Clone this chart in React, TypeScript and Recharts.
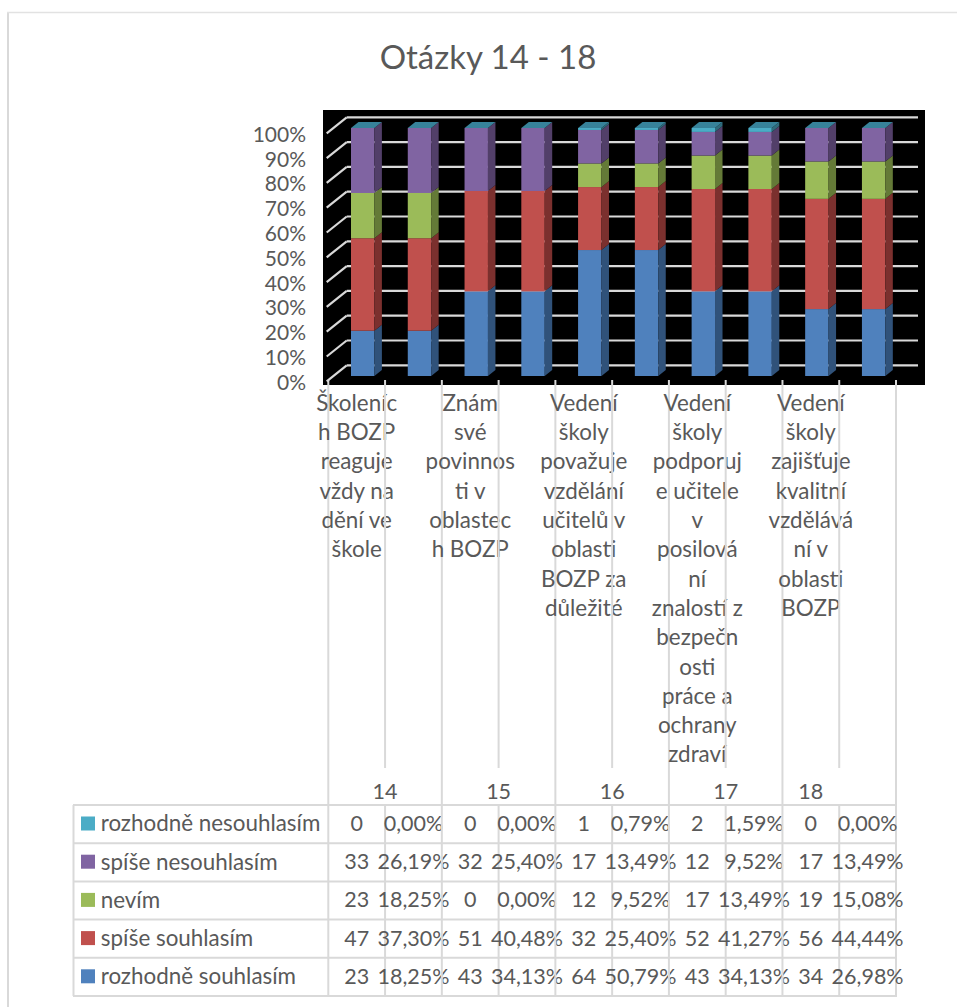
import React from "react";
import { BarChart, Bar, XAxis, YAxis, CartesianGrid } from "recharts";

const TEXT = "#595959";
const LINE = "#d9d9d9";
const FONT = "Lato, Carlito, sans-serif";

// question numbers, one column of counts and one of percents each
const questions = [14, 15, 16, 17, 18];
const categoryLabels = [
  ["Školeníc", "h BOZP", "reaguje", "vždy na", "dění ve", "škole"],
  ["Znám", "své", "povinnos", "ti v", "oblastec", "h BOZP"],
  ["Vedení", "školy", "považuje", "vzdělání", "učitelů v", "oblasti", "BOZP za", "důležité"],
  ["Vedení", "školy", "podporuj", "e učitele", "v", "posilová", "ní", "znalostí z", "bezpečn", "osti", "práce a", "ochrany", "zdraví"],
  ["Vedení", "školy", "zajišťuje", "kvalitní", "vzdělává", "ní v", "oblasti", "BOZP"],
];

const yTicks = [0, 0.1, 0.2, 0.3, 0.4, 0.5, 0.6, 0.7, 0.8, 0.9, 1];

const rozhodneSouhlasimCount = [23, 43, 64, 43, 34];
const rozhodneSouhlasimPct = [18.25, 34.13, 50.79, 34.13, 26.98];
const spiseSouhlasimCount = [47, 51, 32, 52, 56];
const spiseSouhlasimPct = [37.3, 40.48, 25.4, 41.27, 44.44];
const nevimCount = [23, 0, 12, 17, 19];
const nevimPct = [18.25, 0, 9.52, 13.49, 15.08];
const spiseNesouhlasimCount = [33, 32, 17, 12, 17];
const spiseNesouhlasimPct = [26.19, 25.4, 13.49, 9.52, 13.49];
const rozhodneNesouhlasimCount = [0, 0, 1, 2, 0];
const rozhodneNesouhlasimPct = [0, 0, 0.79, 1.59, 0];

// bottom to top, as stacked
const series = [
  { key: "s1", name: "rozhodně souhlasím", counts: rozhodneSouhlasimCount, pcts: rozhodneSouhlasimPct, fill: "#4f81bd", side: "#30527a", top: "#4f81bd" },
  { key: "s2", name: "spíše souhlasím", counts: spiseSouhlasimCount, pcts: spiseSouhlasimPct, fill: "#c0504d", side: "#7b302e", top: "#c0504d" },
  { key: "s3", name: "nevím", counts: nevimCount, pcts: nevimPct, fill: "#9bbb59", side: "#647a37", top: "#9bbb59" },
  { key: "s4", name: "spíše nesouhlasím", counts: spiseNesouhlasimCount, pcts: spiseNesouhlasimPct, fill: "#8064a2", side: "#523f69", top: "#8064a2" },
  { key: "s5", name: "rozhodně nesouhlasím", counts: rozhodneNesouhlasimCount, pcts: rozhodneNesouhlasimPct, fill: "#4bacc6", side: "#2f6a7c", top: "#37829a" },
];

const fmtPct = (v: number) => v.toFixed(2).replace(".", ",") + "%";

// two columns per question: raw counts and percents
const columns: any[] = [];
questions.forEach((q, i) => {
  const counts: any = { col: `${q}-n`, question: i, isPct: false };
  const pcts: any = { col: `${q}-p`, question: i, isPct: true };
  series.forEach((s) => {
    counts[s.key] = s.counts[i];
    pcts[s.key] = s.pcts[i];
  });
  columns.push(counts, pcts);
});

// table rows are top to bottom in the picture
const tableRows = [...series].reverse();

const BAND = 56.77;
const SHIFT = 5.7; // bars sit further right than the axis bands (3d depth)
const TABLE_TOP = 805;
const ROW_H = 38.2;
const TABLE_BOTTOM = TABLE_TOP + ROW_H * 5;

// 3d look: front face, side face, and a lid on the last series
const Prism = (props: any) => {
  const { x, y, width, height, fill, side, top, lid } = props;
  const dx = 7.5;
  const dy = 6;
  const r = x + width;
  return (
    <g>
      <rect x={x} y={y} width={width} height={height} fill={fill} />
      <polygon
        points={`${r},${y + height} ${r + dx},${y + height - dy} ${r + dx},${y - dy} ${r},${y}`}
        fill={side}
      />
      {lid && (
        <polygon
          points={`${x},${y} ${x + dx},${y - dy} ${r + dx},${y - dy} ${r},${y}`}
          fill={top}
        />
      )}
    </g>
  );
};

const GridLine = (props: any) => {
  const { y1, index } = props;
  return (
    <g key={`grid-${index}`}>
      <line x1={346.7} y1={y1 - 10.7} x2={918} y2={y1 - 10.7} stroke={LINE} strokeWidth={2.2} />
      <line x1={326.7} y1={y1 + 5.3} x2={346.7} y2={y1 - 10.7} stroke={LINE} strokeWidth={2.2} />
    </g>
  );
};

const YTick = ({ x, y, payload }: any) => (
  <text x={x - 20} y={y + 6.5} dy="0.35em" textAnchor="end" fontSize={21} fontFamily={FONT} fill={TEXT}>
    {`${Math.round(payload.value * 100)}%`}
  </text>
);

// each x tick draws its column: separator, category label, table cells
const ColumnTick = ({ x, payload, index }: any) => {
  const i = payload.index ?? index;
  const col = columns[i];
  const cx = x - SHIFT;
  const left = cx - BAND / 2;
  const right = cx + BAND / 2;
  const isFirst = !col.isPct;
  const labelLines = isFirst ? categoryLabels[col.question] : [];
  return (
    <g fontFamily={FONT} fontSize={21.5} fill={TEXT} textAnchor="middle">
      <line x1={left} y1={380} x2={left} y2={isFirst ? TABLE_BOTTOM : 768} stroke={LINE} strokeWidth={2} />
      {!isFirst && <line x1={left} y1={TABLE_TOP} x2={left} y2={TABLE_BOTTOM} stroke={LINE} strokeWidth={2} />}
      {i === columns.length - 1 && (
        <line x1={right} y1={380} x2={right} y2={TABLE_BOTTOM} stroke={LINE} strokeWidth={2} />
      )}
      {labelLines.map((t: string, k: number) => (
        <text key={k} x={cx} y={403 + k * 29.3} dy="0.35em" fontSize={22.4}>
          {t}
        </text>
      ))}
      {isFirst && (
        <text x={col.question === 4 ? cx : right} y={791.5} dy="0.35em">
          {questions[col.question]}
        </text>
      )}
      {tableRows.map((s, r) => (
        <text key={s.key} x={cx} y={TABLE_TOP + 18.5 + r * ROW_H} dy="0.35em">
          {col.isPct ? fmtPct(col[s.key]) : col[s.key]}
        </text>
      ))}
    </g>
  );
};

// row names with colour keys, and the horizontal table rules
const TableFrame = () => (
  <svg width={957} height={1007} style={{ position: "absolute", left: 0, top: 0 }}>
    <line x1={8} y1={12} x2={8} y2={1007} stroke={LINE} strokeWidth={2} />
    <line x1={7} y1={12.5} x2={957} y2={12.5} stroke="#e2e2e2" strokeWidth={1.5} />
    <text x={488} y={57} dy="0.35em" textAnchor="middle" fontSize={33} fontFamily={FONT} fill={TEXT}>
      Otázky 14 - 18
    </text>
    <rect x={323} y={110} width={602} height={275} fill="#000000" />
    <line x1={73.5} y1={TABLE_TOP} x2={73.5} y2={TABLE_BOTTOM} stroke={LINE} strokeWidth={2} />
    {[0, 1, 2, 3, 4, 5].map((r) => (
      <line key={r} x1={73} y1={TABLE_TOP + r * ROW_H} x2={897} y2={TABLE_TOP + r * ROW_H} stroke={LINE} strokeWidth={2} />
    ))}
    {tableRows.map((s, r) => (
      <g key={s.key}>
        <rect x={81} y={TABLE_TOP + 11.5 + r * ROW_H} width={14} height={14} fill={s.fill} />
        <text x={100.7} y={TABLE_TOP + 18.5 + r * ROW_H} dy="0.35em" fontSize={22.4} fontFamily={FONT} fill={TEXT}>
          {s.name}
        </text>
      </g>
    ))}
  </svg>
);

export default function App() {
  return (
    <div style={{ position: "absolute", left: 0, top: 0, width: 957, height: 1007, background: "#fff", overflow: "hidden" }}>
      <TableFrame />
      <div style={{ position: "absolute", left: 0, top: 0 }}>
        <BarChart
          width={957}
          height={1007}
          data={columns}
          stackOffset="expand"
          barCategoryGap={0}
          margin={{ top: 128, right: 55.3, bottom: 630, left: 274 }}
        >
          <CartesianGrid vertical={false} horizontal={(p: any) => <GridLine {...p} />} />
          <YAxis
            type="number"
            width={60}
            domain={[0, 1]}
            ticks={yTicks}
            interval={0}
            axisLine={false}
            tickLine={false}
            tick={<YTick />}
          />
          <XAxis dataKey="col" height={1} interval={0} axisLine={false} tickLine={false} tick={<ColumnTick />} />
          {series.map((s, i) => (
            <Bar
              key={s.key}
              dataKey={s.key}
              name={s.name}
              stackId="a"
              barSize={23.4}
              fill={s.fill}
              isAnimationActive={false}
              shape={(p: any) => <Prism {...p} side={s.side} top={s.top} lid={i === series.length - 1} />}
            />
          ))}
        </BarChart>
      </div>
    </div>
  );
}
